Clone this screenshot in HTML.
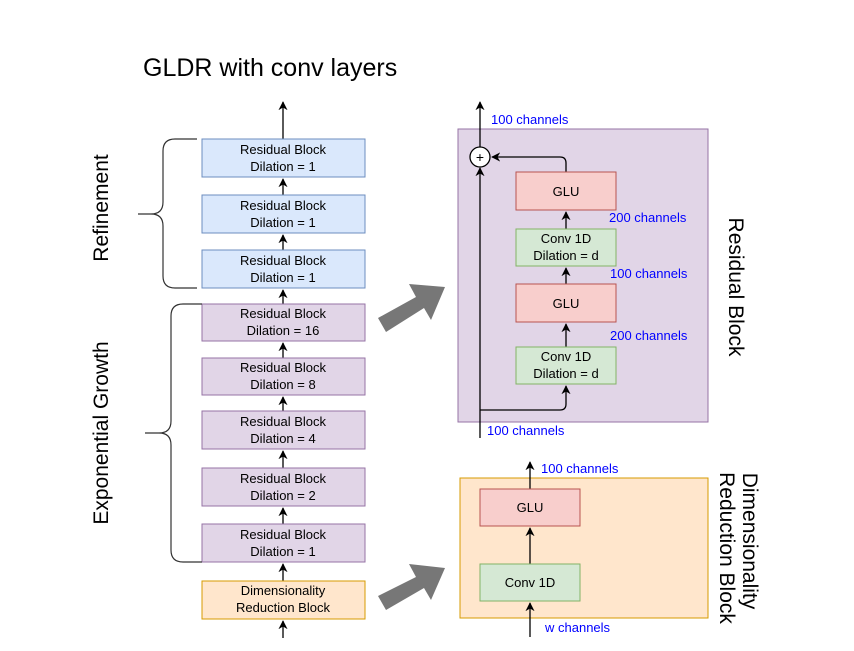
<!DOCTYPE html>
<html><head><style>
body{margin:0;background:#fff;}
svg text{font-family:"Liberation Sans",Arial,sans-serif;}
</style></head><body>
<svg width="854" height="646" viewBox="0 0 854 646" xmlns="http://www.w3.org/2000/svg">
<defs>
<marker id="a" viewBox="0 0 10 10" refX="9" refY="5" markerWidth="7" markerHeight="7" orient="auto"><path d="M0,0 L10,5 L0,10 L3,5 z" fill="#000"/></marker>
</defs>
<text x="143" y="76" font-size="25">GLDR with conv layers</text>
<g stroke="#000" stroke-width="1.3" fill="none" marker-end="url(#a)">
<line x1="283" y1="139" x2="283" y2="102"/>
<line x1="283" y1="195" x2="283" y2="179"/>
<line x1="283" y1="250" x2="283" y2="235"/>
<line x1="283" y1="304" x2="283" y2="290"/>
<line x1="283" y1="358" x2="283" y2="343"/>
<line x1="283" y1="411" x2="283" y2="397"/>
<line x1="283" y1="468" x2="283" y2="451"/>
<line x1="283" y1="524" x2="283" y2="508"/>
<line x1="283" y1="581" x2="283" y2="564"/>
<line x1="283" y1="638" x2="283" y2="621"/>
</g>
<g font-size="13" text-anchor="middle">
<rect x="202" y="139" width="163" height="38" fill="#dae8fc" stroke="#6c8ebf"/>
<text x="283" y="154">Residual Block</text><text x="283" y="171">Dilation = 1</text>
<rect x="202" y="195" width="163" height="38" fill="#dae8fc" stroke="#6c8ebf"/>
<text x="283" y="210">Residual Block</text><text x="283" y="227">Dilation = 1</text>
<rect x="202" y="250" width="163" height="38" fill="#dae8fc" stroke="#6c8ebf"/>
<text x="283" y="265">Residual Block</text><text x="283" y="282">Dilation = 1</text>
<rect x="202" y="304" width="163" height="37" fill="#e1d5e7" stroke="#9673a6"/>
<text x="283" y="318">Residual Block</text><text x="283" y="335">Dilation = 16</text>
<rect x="202" y="358" width="163" height="37" fill="#e1d5e7" stroke="#9673a6"/>
<text x="283" y="372">Residual Block</text><text x="283" y="389">Dilation = 8</text>
<rect x="202" y="411" width="163" height="38" fill="#e1d5e7" stroke="#9673a6"/>
<text x="283" y="426">Residual Block</text><text x="283" y="443">Dilation = 4</text>
<rect x="202" y="468" width="163" height="38" fill="#e1d5e7" stroke="#9673a6"/>
<text x="283" y="483">Residual Block</text><text x="283" y="500">Dilation = 2</text>
<rect x="202" y="524" width="163" height="38" fill="#e1d5e7" stroke="#9673a6"/>
<text x="283" y="539">Residual Block</text><text x="283" y="556">Dilation = 1</text>
<rect x="202" y="581" width="163" height="38" fill="#ffe6cc" stroke="#d79b00"/>
<text x="283" y="595">Dimensionality</text><text x="283" y="612">Reduction Block</text>
</g>
<path d="M197,139 H175 Q163,139 163,151 V202 Q163,214 151,214 H138 M151,214 Q163,214 163,226 V276 Q163,288 175,288 H197" fill="none" stroke="#333" stroke-width="1.2"/>
<path d="M202,304 H183 Q171,304 171,316 V421 Q171,433 159,433 H145 M159,433 Q171,433 171,445 V550 Q171,562 183,562 H202" fill="none" stroke="#333" stroke-width="1.2"/>
<text transform="translate(108,208) rotate(-90)" font-size="21" text-anchor="middle">Refinement</text>
<text transform="translate(108,433) rotate(-90)" font-size="21" text-anchor="middle">Exponential Growth</text>
<path d="M378,318 L416,297 L409,284 L445,287 L431,320 L424,308 L386,332 Z" fill="#777"/>
<path d="M378,596 L416,577 L409,564 L445,568 L431,600 L424,588 L386,610 Z" fill="#777"/>
<rect x="458" y="129" width="250" height="293" fill="#e1d5e7" stroke="#9673a6"/>
<g stroke="#000" stroke-width="1.3" fill="none">
<line x1="480" y1="438" x2="480" y2="168" marker-end="url(#a)"/>
<line x1="480" y1="147" x2="480" y2="102" marker-end="url(#a)"/>
<path d="M480,410 H560 Q566,410 566,404 V386" marker-end="url(#a)"/>
<path d="M566,172 V163 Q566,157 560,157 H492" marker-end="url(#a)"/>
<line x1="566" y1="347" x2="566" y2="324" marker-end="url(#a)"/>
<line x1="566" y1="284" x2="566" y2="268" marker-end="url(#a)"/>
<line x1="566" y1="229" x2="566" y2="212" marker-end="url(#a)"/>
</g>
<circle cx="480" cy="157" r="10" fill="#fff" stroke="#000" stroke-width="1.3"/>
<text x="480" y="162" font-size="14" text-anchor="middle">+</text>
<g font-size="13" text-anchor="middle">
<rect x="516" y="172" width="100" height="38" fill="#f8cecc" stroke="#b85450"/>
<text x="566" y="196">GLU</text>
<rect x="516" y="229" width="100" height="37" fill="#d5e8d4" stroke="#82b366"/>
<text x="566" y="243">Conv 1D</text><text x="566" y="260">Dilation = d</text>
<rect x="516" y="284" width="100" height="38" fill="#f8cecc" stroke="#b85450"/>
<text x="566" y="308">GLU</text>
<rect x="516" y="347" width="100" height="37" fill="#d5e8d4" stroke="#82b366"/>
<text x="566" y="361">Conv 1D</text><text x="566" y="378">Dilation = d</text>
</g>
<g font-size="13" fill="#0000ff">
<text x="491" y="124">100 channels</text>
<text x="609" y="222">200 channels</text>
<text x="610" y="278">100 channels</text>
<text x="610" y="340">200 channels</text>
<text x="487" y="435">100 channels</text>
<text x="541" y="473">100 channels</text>
<text x="539" y="553">200 channels</text>
<text x="545" y="632">w channels</text>
</g>
<text transform="translate(729,287) rotate(90)" font-size="21" text-anchor="middle">Residual Block</text>
<rect x="460" y="478" width="248" height="140" fill="#ffe6cc" stroke="#d79b00"/>
<g stroke="#000" stroke-width="1.3" fill="none" marker-end="url(#a)">
<line x1="530" y1="637" x2="530" y2="603"/>
<line x1="530" y1="564" x2="530" y2="528"/>
<line x1="530" y1="489" x2="530" y2="462"/>
</g>
<g font-size="13" text-anchor="middle">
<rect x="480" y="489" width="100" height="37" fill="#f8cecc" stroke="#b85450"/>
<text x="530" y="512">GLU</text>
<rect x="480" y="564" width="100" height="37" fill="#d5e8d4" stroke="#82b366"/>
<text x="530" y="587">Conv 1D</text>
</g>
<text transform="translate(743,541) rotate(90)" font-size="21" text-anchor="middle">Dimensionality</text>
<text transform="translate(720,548) rotate(90)" font-size="21" text-anchor="middle">Reduction Block</text>
</svg>
</body></html>
